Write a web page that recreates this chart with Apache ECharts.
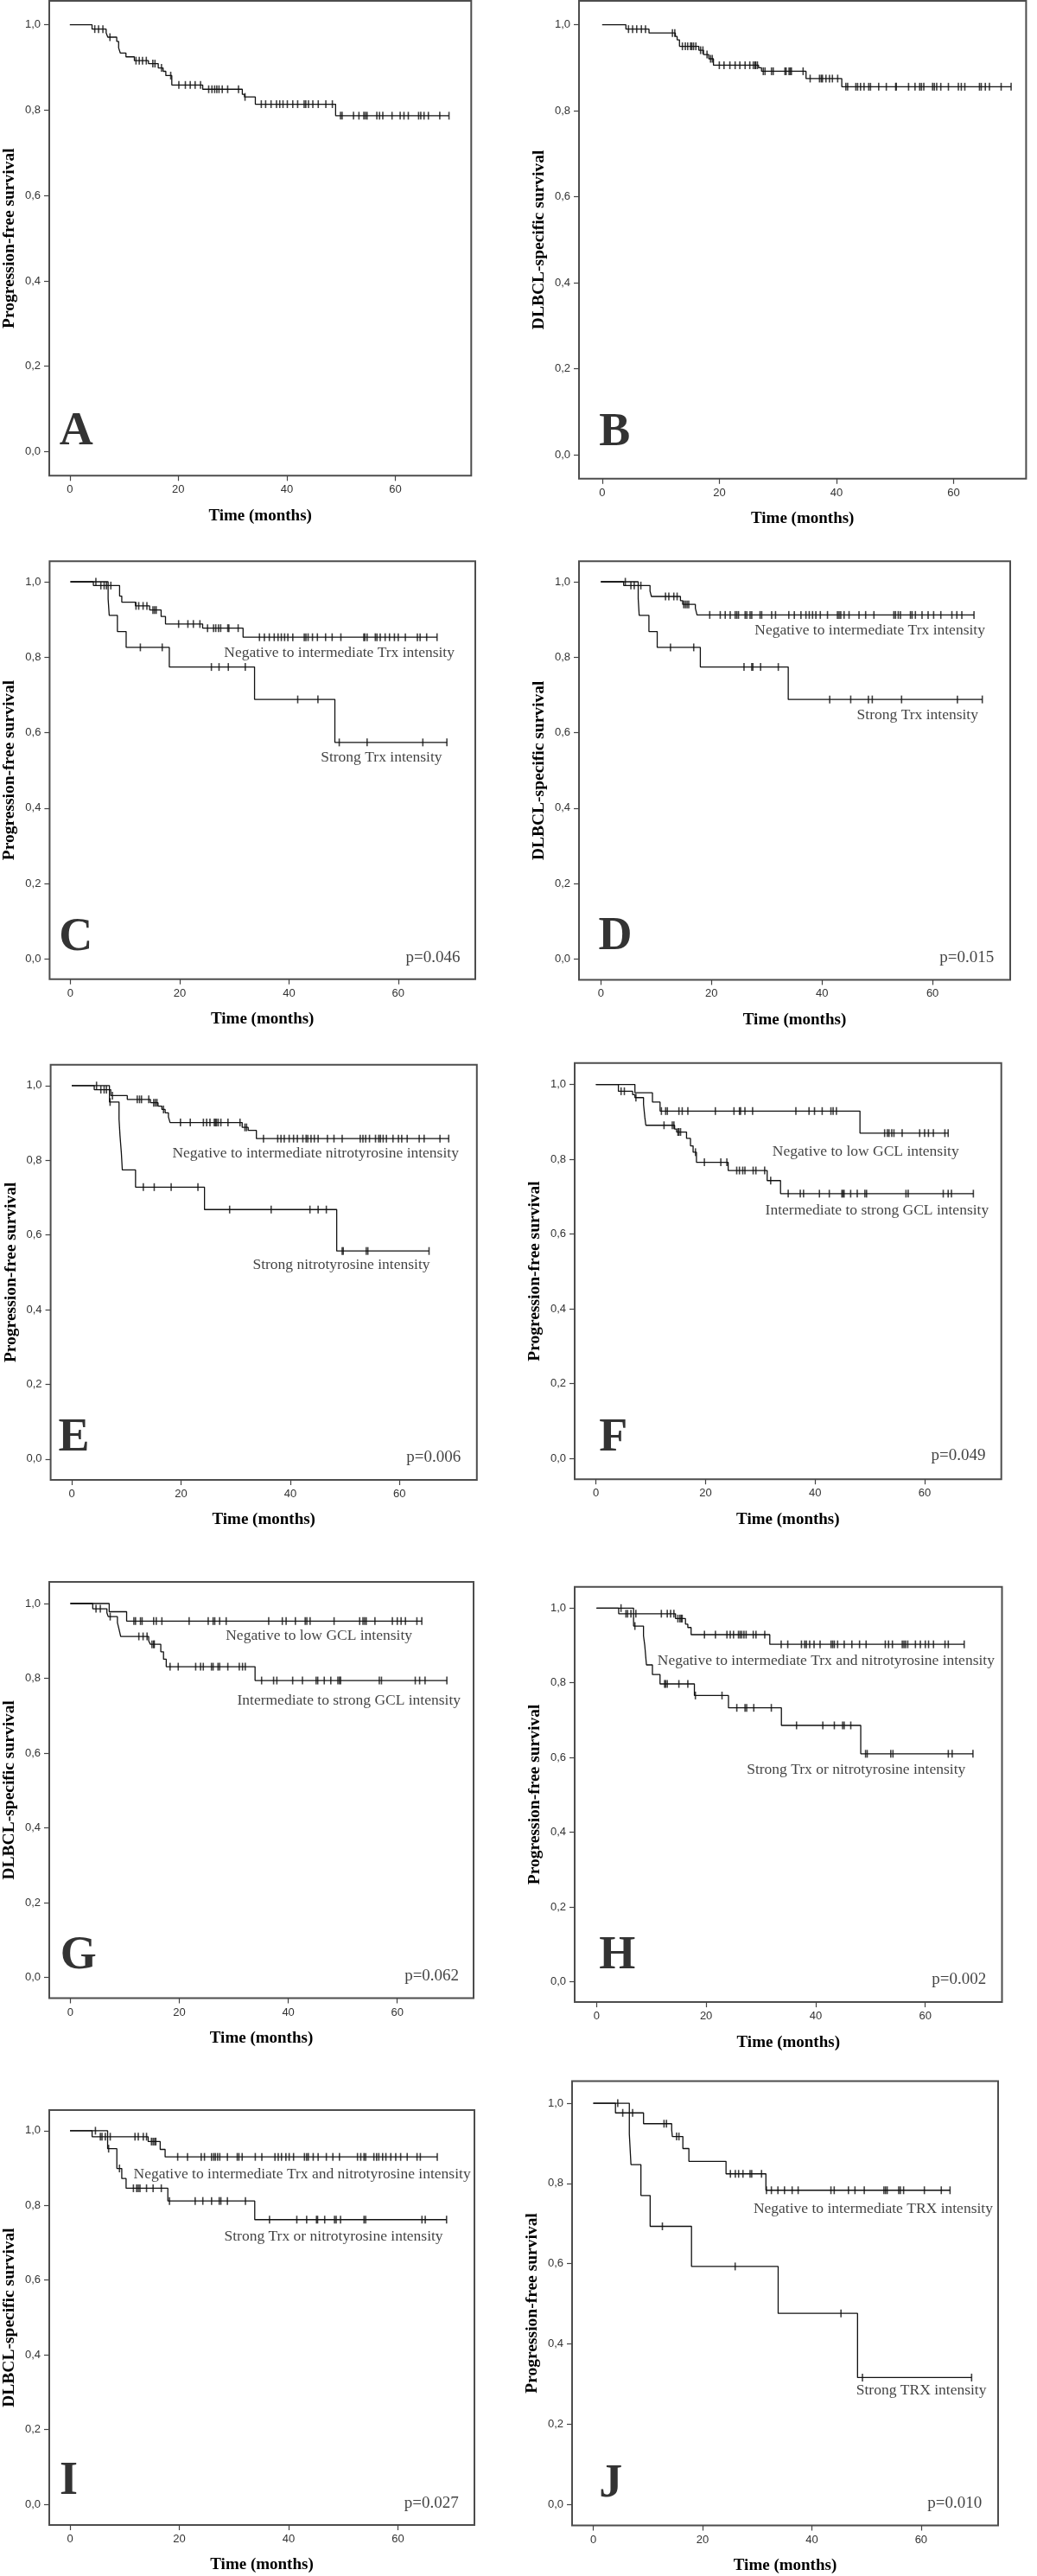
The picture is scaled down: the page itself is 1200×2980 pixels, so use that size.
<!DOCTYPE html>
<html>
<head>
<meta charset="utf-8">
<script src="https://cdn.jsdelivr.net/npm/echarts@6/dist/echarts.min.js"></script>
<style>
  html, body { margin: 0; padding: 0; background: #ffffff; }
  #chart { width: 1200px; height: 2980px; }
</style>
</head>
<body>
<div id="chart"></div>
<script>
// ---------------- DATA ----------------
const xTicks = [0, 20, 40, 60];
const yTicks = [0, 0.2, 0.4, 0.6, 0.8, 1.0];
const xAxisTitle = 'Time (months)';
const pfsTitle = 'Progression-free survival';
const dssTitle = 'DLBCL-specific survival';

// Panel A – progression-free survival, all patients
const A_events = [[4.1,0.990],[6.7,0.981],[7.0,0.971],[8.65,0.961],[9.0,0.946],[9.3,0.934],[10.35,0.925],[11.9,0.916],[14.5,0.909],[16.3,0.899],[17.2,0.891],[17.7,0.881],[18.8,0.859],[24.5,0.849],[31.8,0.837],[32.2,0.831],[34.2,0.814],[49.0,0.787]];
const A_censor = [4.6,5.3,6.1,7.4,12.2,12.8,13.4,14.1,15.3,15.7,16.9,18.6,20.1,21.3,22.2,23.1,24.1,25.6,26.2,26.7,27.1,27.5,28.1,29.1,31.1,32.3,35.3,36.1,37.1,38.1,38.7,39.3,40.1,41.1,42.0,43.2,43.5,44.0,44.8,45.8,47.2,48.4,49.9,50.2,52.3,53.3,54.2,54.5,54.8,56.6,57.1,57.7,59.4,60.9,61.6,62.4,64.3,64.7,65.3,66.1,68.2,69.9];

// Panel B – DLBCL-specific survival, all patients
const B_events = [[4.06,0.990],[8.0,0.981],[12.5,0.973],[12.8,0.965],[13.2,0.950],[16.5,0.941],[17.3,0.931],[18.2,0.921],[19.0,0.906],[26.7,0.900],[27.2,0.892],[34.8,0.875],[40.9,0.856]];
const B_censor = [4.5,5.2,5.9,6.7,7.4,12.0,12.4,13.7,14.2,14.6,15.1,15.3,15.6,16.0,16.8,17.2,17.9,18.5,18.8,20.0,20.8,21.8,22.7,23.5,24.4,25.2,25.8,26.1,26.2,26.5,27.5,27.8,28.9,29.2,31.2,31.4,31.9,32.1,32.3,34.3,35.5,37.1,37.4,37.6,38.2,38.8,39.3,40.2,41.6,41.9,43.3,43.6,44.1,44.7,45.5,45.8,47.2,48.5,50.1,50.2,52.3,53.4,54.2,54.5,54.9,56.4,56.7,57.1,57.8,59.1,60.8,61.3,61.9,64.4,64.7,65.4,66.1,68.1,69.8];

// Panel C – PFS by Trx
const C_neg_events = [[4.2,0.990],[9.0,0.962],[9.4,0.946],[11.9,0.936],[14.5,0.925],[16.6,0.908],[17.4,0.888],[24.2,0.877],[31.6,0.853]];
const C_neg_censor = [5.57,6.17,6.6,7.4,12.0,12.5,13.3,14.0,15.1,15.4,15.7,19.8,21.5,22.5,23.7,25.1,26.2,26.6,27.1,27.5,28.8,29.0,30.7,34.6,35.5,36.4,37.3,38.0,38.6,39.2,39.8,40.7,42.8,43.1,43.5,44.3,45.2,46.7,47.9,49.5,53.7,53.9,54.3,55.8,56.1,56.7,57.6,58.4,59.3,60.0,61.3,63.5,64.0,65.2,67.1];
const C_str_events = [[6.9,0.955],[7.1,0.911],[8.6,0.868],[10.2,0.826],[18.1,0.774],[33.7,0.688],[48.4,0.574]];
const C_str_censor = [4.66,12.8,16.8,25.8,27.2,28.9,32.0,41.6,45.3,49.2,54.3,64.5,68.9];

// Panel D – DSS by Trx
const D_neg_events = [[4.13,0.990],[8.9,0.975],[9.15,0.961],[14.4,0.950],[14.8,0.940],[17.1,0.930],[17.4,0.912]];
const D_neg_censor = [5.44,6.04,7.24,11.7,12.3,13.2,13.8,15.0,15.3,15.6,15.9,19.7,21.6,22.5,23.4,24.3,24.6,24.9,26.1,26.4,27.0,27.3,28.8,29.1,30.9,31.6,34.0,35.0,36.2,37.1,37.7,38.3,38.9,39.7,41.0,42.8,43.1,43.4,44.0,44.9,46.7,47.9,49.4,53.0,53.3,53.8,54.2,56.0,56.3,56.9,58.1,59.2,60.2,61.5,63.5,64.4,65.3,67.5];
const D_str_events = [[6.76,0.955],[6.94,0.911],[8.7,0.868],[10.2,0.826],[18.0,0.774],[33.9,0.688]];
const D_str_censor = [4.43,12.6,16.8,25.9,27.3,27.5,28.9,32.1,41.4,45.2,48.4,49.1,54.4,64.5,69.0];

// Panel E – PFS by nitrotyrosine
const E_neg_events = [[4.12,0.989],[7.14,0.973],[10.17,0.963],[14.41,0.954],[15.8,0.945],[16.5,0.936],[17.1,0.927],[17.7,0.916],[18.0,0.901],[31.2,0.888],[32.3,0.880],[33.8,0.858]];
const E_neg_censor = [5.33,5.93,6.36,7.45,11.99,12.41,12.77,14.1,15.0,15.3,15.6,16.8,19.9,21.7,24.1,24.7,25.3,26.1,26.3,26.5,26.8,27.3,28.6,30.8,31.7,32.0,35.1,37.7,38.3,38.9,39.8,40.6,41.3,42.3,42.9,43.2,43.8,44.4,45.1,46.8,48.0,49.5,52.8,53.3,53.8,54.5,55.6,56.2,56.5,57.0,57.6,58.8,59.8,60.4,61.4,63.6,64.5,67.4,69.0];
const E_str_events = [[6.9,0.956],[8.66,0.910],[8.84,0.865],[9.08,0.820],[9.26,0.774],[11.68,0.728],[24.3,0.668],[48.5,0.557]];
const E_str_censor = [4.54,7.02,13.1,15.1,18.2,23.1,28.9,36.5,43.6,45.1,46.6,49.5,49.7,53.9,54.2,65.4];

// Panel F – PFS by GCL
const F_low_events = [[7.12,0.978],[10.32,0.953],[11.71,0.929],[48.2,0.870]];
const F_low_censor = [11.95,12.73,13.04,15.15,15.75,16.78,21.8,25.2,26.2,26.4,27.2,28.6,36.5,38.9,39.9,41.3,42.9,43.3,43.9,52.7,53.2,53.5,54.0,54.4,55.9,59.1,60.0,60.7,61.6,63.7,64.3];
const F_hi_events = [[4.10,0.982],[6.70,0.973],[7.12,0.965],[8.69,0.947],[8.93,0.912],[9.11,0.891],[14.36,0.881],[14.73,0.873],[16.54,0.856],[17.26,0.836],[17.74,0.819],[18.35,0.792],[24.14,0.770],[31.26,0.743],[33.7,0.708]];
const F_hi_censor = [4.59,5.19,7.30,12.43,13.94,14.24,14.97,15.15,15.45,18.17,19.8,22.8,23.9,25.7,26.2,26.8,27.2,28.7,29.2,30.8,31.9,35.1,37.3,37.9,40.8,42.6,44.9,45.1,45.3,46.5,47.7,49.1,49.4,56.6,57.0,63.4,64.3,64.9,68.9];

// Panel G – DSS by GCL
const G_low_events = [[7.13,0.978],[10.33,0.953]];
const G_low_censor = [11.66,11.96,12.87,13.17,15.29,15.77,16.8,21.8,25.3,26.2,26.5,27.4,28.6,36.4,38.9,39.6,41.3,43.1,43.4,44.0,48.4,53.1,53.7,54.0,54.3,55.9,59.1,60.0,60.7,61.5,63.6,64.5];
const G_hi_events = [[4.11,0.986],[6.71,0.975],[6.95,0.965],[8.64,0.949],[8.94,0.931],[9.24,0.912],[14.38,0.900],[14.68,0.891],[16.6,0.871],[17.1,0.851],[17.6,0.831],[33.9,0.794]];
const G_hi_censor = [4.71,5.50,7.31,12.57,13.35,14.08,14.98,15.29,15.4,18.3,19.8,23.0,23.9,24.4,25.9,26.2,27.1,27.4,28.9,31.0,31.6,32.1,35.1,37.3,37.9,40.8,42.6,45.1,45.4,46.6,47.8,49.1,49.4,49.6,56.7,57.1,63.3,64.1,65.1,69.1];

// Panel H – PFS by Trx and nitrotyrosine
const H_neg_events = [[4.04,0.985],[14.42,0.972],[16.23,0.957],[16.66,0.948],[17.26,0.929],[31.62,0.903]];
const H_neg_censor = [5.37,5.67,6.28,7.18,11.83,12.91,13.52,14.12,14.85,15.21,15.45,15.63,19.7,21.7,23.8,24.4,25.0,25.9,26.2,26.5,26.9,27.3,28.6,29.1,30.7,33.7,34.9,37.4,38.0,38.3,38.9,39.7,40.8,42.8,43.1,43.4,44.0,45.2,46.6,48.0,49.2,52.7,53.3,54.0,55.8,56.1,56.4,56.8,58.2,59.1,60.0,60.6,61.5,63.6,64.2,67.1];
const H_str_events = [[6.76,0.952],[8.57,0.926],[8.81,0.899],[9.11,0.848],[10.2,0.822],[11.59,0.797],[17.86,0.766],[24.08,0.733],[33.74,0.686],[48.22,0.610]];
const H_str_censor = [4.47,7.0,12.43,12.61,12.91,15.03,16.66,18.04,22.9,25.6,27.1,27.4,28.7,31.9,36.5,41.3,43.4,44.9,45.2,46.4,49.1,49.4,53.7,54.1,64.2,64.9,68.7];

// Panel I – DSS by Trx and nitrotyrosine
const I_neg_events = [[4.04,0.984],[14.3,0.971],[16.5,0.950],[17.4,0.930]];
const I_neg_censor = [5.55,5.85,6.46,7.36,11.89,12.49,13.4,14.0,14.9,15.2,15.5,15.7,19.7,21.5,24.0,24.6,25.9,26.3,26.6,27.0,27.4,28.8,30.6,30.9,31.5,33.9,35.1,37.5,38.1,38.7,39.5,40.1,40.9,42.9,43.3,43.6,44.5,45.4,46.9,48.1,49.3,52.6,53.2,53.8,54.1,55.6,56.1,56.5,57.2,57.8,58.7,59.6,60.5,61.7,63.5,64.1,67.2];
const I_str_events = [[6.88,0.952],[8.57,0.899],[9.47,0.872],[10.26,0.846],[17.9,0.812],[33.8,0.762]];
const I_str_censor = [4.65,7.06,9.05,11.6,12.2,12.5,12.8,14.0,15.2,16.7,18.2,22.9,24.3,25.9,27.3,27.6,28.8,32.1,36.5,41.5,43.3,45.1,45.3,46.6,48.4,48.7,49.5,53.8,54.1,64.4,65.0,68.9];

// Panel J – PFS by TRX
const J_neg_events = [[4.06,0.976],[9.2,0.949],[14.35,0.934],[14.47,0.917],[16.4,0.887],[17.5,0.855],[24.3,0.824],[31.6,0.783]];
const J_neg_censor = [5.39,7.2,12.95,13.4,15.25,15.68,25.1,26.0,26.6,27.4,28.7,29.0,30.8,31.7,32.6,33.8,35.0,36.4,37.5,43.5,44.1,46.7,47.9,49.6,53.2,53.5,53.8,55.9,56.2,56.8,60.6,63.7,65.3];
const J_str_events = [[6.6,0.923],[6.9,0.847],[8.72,0.770],[10.41,0.693],[17.98,0.593],[33.84,0.476],[48.37,0.316]];
const J_str_censor = [4.48,12.65,25.97,45.34,49.27,69.25];

// Texts
const panelLetters = ['A','B','C','D','E','F','G','H','I','J'];
const yTitles = [pfsTitle, dssTitle, pfsTitle, dssTitle, pfsTitle, pfsTitle, dssTitle, pfsTitle, dssTitle, pfsTitle];
const curveTexts = {
  C: ['Negative to intermediate Trx intensity', 'Strong Trx intensity'],
  D: ['Negative to intermediate Trx intensity', 'Strong Trx intensity'],
  E: ['Negative to intermediate nitrotyrosine intensity', 'Strong nitrotyrosine intensity'],
  F: ['Negative to low GCL intensity', 'Intermediate to strong GCL intensity'],
  G: ['Negative to low GCL intensity', 'Intermediate to strong GCL intensity'],
  H: ['Negative to intermediate Trx and nitrotyrosine intensity', 'Strong Trx or nitrotyrosine intensity'],
  I: ['Negative to intermediate Trx and nitrotyrosine intensity', 'Strong Trx or nitrotyrosine intensity'],
  J: ['Negative to intermediate TRX intensity', 'Strong TRX intensity']
};
const pTexts = { C:'p=0.046', D:'p=0.015', E:'p=0.006', F:'p=0.049', G:'p=0.062', H:'p=0.002', I:'p=0.027', J:'p=0.010' };

const curves = {
  A: [[A_events, A_censor]],
  B: [[B_events, B_censor]],
  C: [[C_neg_events, C_neg_censor], [C_str_events, C_str_censor]],
  D: [[D_neg_events, D_neg_censor], [D_str_events, D_str_censor]],
  E: [[E_neg_events, E_neg_censor], [E_str_events, E_str_censor]],
  F: [[F_low_events, F_low_censor], [F_hi_events, F_hi_censor]],
  G: [[G_low_events, G_low_censor], [G_hi_events, G_hi_censor]],
  H: [[H_neg_events, H_neg_censor], [H_str_events, H_str_censor]],
  I: [[I_neg_events, I_neg_censor], [I_str_events, I_str_censor]],
  J: [[J_neg_events, J_neg_censor], [J_str_events, J_str_censor]]
};

// ---------------- LAYOUT (pixel boxes, axis extents, text anchors) ----------------
const layout = {
  A: { box:[56.6, 1, 488.7, 549.3],    x:[-3.79, 74.0],  y:[-0.0565, 1.0561] },
  B: { box:[670, 1, 517.4, 552.8],     x:[-3.95, 72.36], y:[-0.0555, 1.0557] },
  C: { box:[57.4, 649.3, 492.6, 483.4], x:[-3.81, 74.1], y:[-0.0536, 1.0543] },
  D: { box:[670, 649.3, 499, 484.1],   x:[-3.95, 74.05], y:[-0.0552, 1.0543] },
  E: { box:[58.6, 1231.7, 493.2, 480.3], x:[-3.86, 74.15], y:[-0.056, 1.0558] },
  F: { box:[665, 1229.8, 493.7, 481.4], x:[-3.88, 74.0], y:[-0.056, 1.0574] },
  G: { box:[54.7, 1830, 493.3, 481.5], x:[-3.87, 74.0],  y:[-0.0557, 1.0578] },
  H: { box:[665, 1835.8, 494.5, 480.3], x:[-3.99, 74.0], y:[-0.0548, 1.0567] },
  I: { box:[55.5, 2441, 493.5, 480],   x:[-3.8, 74.0],   y:[-0.0555, 1.0553] },
  J: { box:[662, 2407.4, 493, 514.1],  x:[-3.88, 74.1],  y:[-0.0528, 1.0554] }
};
const letterAnchor = { A:[-1.83,-0.010], B:[-0.45,-0.005], C:[-2.0,-0.007], D:[-0.36,-0.004], E:[-2.36,-0.009],
  F:[0.66,-0.011], G:[-1.75,-0.007], H:[0.54,0.004], I:[-1.81,-0.004], J:[1.15,-0.009] };
const textAnchor = {
  C: [[28.2,0.809],[45.9,0.532]], D: [[27.9,0.870],[46.4,0.645]], E: [[18.5,0.817],[33.2,0.518]],
  F: [[32.3,0.819],[31.0,0.661]], G: [[28.6,0.913],[30.7,0.738]], H: [[11.2,0.857],[27.5,0.565]],
  I: [[11.7,0.881],[28.3,0.716]], J: [[29.4,0.736],[48.2,0.282]]
};
const pAnchor = { C:[71.4,0.002], D:[71.2,0.002], E:[71.3,0.004], F:[71.2,0.005], G:[71.4,0.002], H:[71.2,0.005], I:[71.2,0.002], J:[71.2,0.002] };

// ---------------- BUILD ----------------
const INK = '#111111';
function levelAt(events, t) {
  let s = 1;
  for (const e of events) { if (e[0] <= t) s = e[1]; }
  return s;
}
function kmLine(events, censor) {
  const last = events.length ? events[events.length - 1] : [0, 1];
  const end = Math.max(last[0], ...censor);
  return [[0, 1]].concat(events, [[end, last[1]]]);
}

const grids = [], xAxes = [], yAxes = [], series = [];
panelLetters.forEach((L, i) => {
  const lay = layout[L];
  grids.push({ left: lay.box[0], top: lay.box[1], width: lay.box[2], height: lay.box[3],
    show: true, borderColor: '#4d4d4d', borderWidth: 2, backgroundColor: '#ffffff' });
  xAxes.push({
    gridIndex: i, type: 'value', min: lay.x[0], max: lay.x[1],
    name: xAxisTitle, nameLocation: 'middle', nameGap: 37,
    nameTextStyle: { fontFamily: 'Liberation Serif', fontWeight: 'bold', fontSize: 19, color: '#000' },
    axisLine: { show: false, onZero: false },
    axisTick: { show: true, length: 6, customValues: xTicks, lineStyle: { color: '#444', width: 1.2 } },
    axisLabel: { customValues: xTicks, margin: 10, fontFamily: 'Liberation Sans', fontSize: 13, color: '#333' },
    splitLine: { show: false }
  });
  yAxes.push({
    gridIndex: i, type: 'value', min: lay.y[0], max: lay.y[1],
    name: yTitles[i], nameLocation: 'middle', nameGap: 36,
    nameTextStyle: { fontFamily: 'Liberation Serif', fontWeight: 'bold', fontSize: 19.5, color: '#000' },
    axisLine: { show: false, onZero: false },
    axisTick: { show: true, length: 6, customValues: yTicks, lineStyle: { color: '#444', width: 1.2 } },
    axisLabel: { customValues: yTicks, margin: 10, fontFamily: 'Liberation Sans', fontSize: 13, color: '#333',
      formatter: v => v.toFixed(1).replace('.', ',') },
    splitLine: { show: false }
  });

  curves[L].forEach(([ev, ce]) => {
    series.push({
      type: 'line', xAxisIndex: i, yAxisIndex: i, data: kmLine(ev, ce), step: 'end',
      showSymbol: false, symbol: 'none', silent: true, animation: false,
      lineStyle: { color: INK, width: 1.3 }
    });
    series.push({
      type: 'scatter', xAxisIndex: i, yAxisIndex: i, silent: true, animation: false,
      data: ce.map(t => [t, levelAt(ev, t)]),
      symbol: 'rect', symbolSize: [1.6, 9], itemStyle: { color: INK }
    });
  });

  // annotations (letters, curve labels, p-values) placed in data coordinates
  const ann = [];
  ann.push({ value: letterAnchor[L], name: L,
    label: { align: 'left', verticalAlign: 'bottom', fontFamily: 'Liberation Serif', fontWeight: 'bold', fontSize: 54, color: '#000' } });
  if (curveTexts[L]) {
    curveTexts[L].forEach((txt, k) => ann.push({ value: textAnchor[L][k], name: txt,
      label: { align: 'left', verticalAlign: 'middle', fontFamily: 'Liberation Serif', fontSize: 17.5, color: '#111' } }));
    ann.push({ value: pAnchor[L], name: pTexts[L],
      label: { align: 'right', verticalAlign: 'middle', fontFamily: 'Liberation Serif', fontSize: 19, color: '#111' } });
  }
  series.push({
    type: 'scatter', xAxisIndex: i, yAxisIndex: i, silent: true, animation: false,
    symbolSize: 1, itemStyle: { color: 'rgba(0,0,0,0)' },
    label: { show: true, position: [0, 0], formatter: p => p.name },
    data: ann
  });
});

const chart = echarts.init(document.getElementById('chart'), null, { renderer: 'canvas', width: 1200, height: 2980 });
chart.setOption({
  backgroundColor: '#ffffff',
  animation: false,
  grid: grids,
  xAxis: xAxes,
  yAxis: yAxes,
  series: series
});
</script>
</body>
</html>
